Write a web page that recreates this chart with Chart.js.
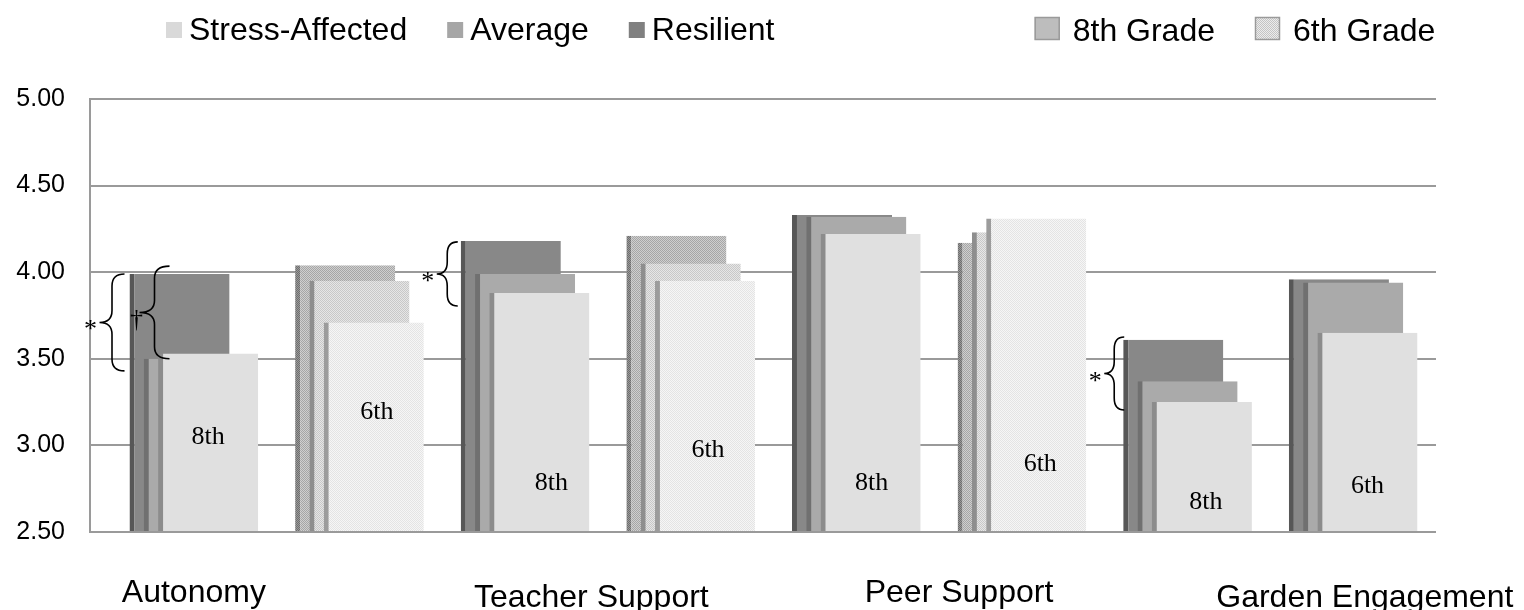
<!DOCTYPE html>
<html>
<head>
<meta charset="utf-8">
<script src="https://cdn.jsdelivr.net/npm/chart.js@4"></script>
<style>
  html, body { margin: 0; padding: 0; background: #fff; }
</style>
</head>
<body>
<canvas id="chart" width="1524" height="610"></canvas>
<script>
// Categories and groups (each category has an 8th and a 6th grade cluster)
const categories = ['Autonomy', 'Teacher Support', 'Peer Support', 'Garden Engagement'];
const groupIndex = [0, 1, 2, 3, 4, 5, 6, 7];
const groupGrade = ['8th', '6th', '8th', '6th', '8th', '6th', '8th', '6th'];

// Mean scores per group
const stressAffected = [3.53, 3.71, 3.88, 3.95, 4.22, 4.31, 3.25, 3.65];
const average        = [3.50, 3.95, 3.99, 4.05, 4.32, 4.23, 3.37, 3.94];
const resilient      = [3.99, 4.04, 4.18, 4.21, 4.33, 4.17, 3.61, 3.96];

const yTicks = [2.5, 3.0, 3.5, 4.0, 4.5, 5.0];
const gradeLegend = ['8th Grade', '6th Grade'];

// which clusters are drawn with the dotted fill
const patterned = [false, true, false, true, false, true, false, false];

// where the grade text sits inside the front bar (value units) and nudge in px
const gradeLabelY = [3.05, 3.19, 2.78, 2.97, 2.78, 2.89, 2.67, 2.765];
const gradeLabelDx = [0, 3, 12, 3, 1, 4, 4, 0];

// category labels under the plot, in x-scale units
const categoryLabelAt = [0, 2.4, 4.62, 7.07];
const categoryBaseline = [602, 607, 602, 607];

// significance braces: top/bottom in value units, x relative to back bar's left edge
const sigMarks = [
  { group: 0, top: 3.99, bottom: 3.43, tipDx: -30, endDx: -5, mark: '*' },
  { group: 0, top: 4.035, bottom: 3.50, tipDx: 10, endDx: 40, mark: '\u2020' },
  { group: 2, top: 4.175, bottom: 3.805, tipDx: -24, endDx: -3, mark: '*' },
  { group: 6, top: 3.626, bottom: 3.204, tipDx: -19, endDx: 1, mark: '*' }
];

function dotPattern(base, dot) {
  const c = document.createElement('canvas');
  c.width = 4; c.height = 4;
  const g = c.getContext('2d');
  g.fillStyle = base;
  g.fillRect(0, 0, 4, 4);
  g.fillStyle = dot;
  [[0, 0], [2, 0], [1, 1], [3, 1], [0, 2], [2, 2], [1, 3], [3, 3]].forEach(p => g.fillRect(p[0], p[1], 1, 1));
  return g.createPattern(c, 'repeat');
}

const styles = {
  resilient: { bg: '#888888', side: '#575757', pbg: dotPattern('#cfcfcf', '#a6a6a6'), pside: dotPattern('#9a9a9a', '#6e6e6e') },
  average:   { bg: '#aaaaaa', side: '#707070', pbg: dotPattern('#e6e6e6', '#c8c8c8'), pside: '#8e8e8e' },
  stress:    { bg: '#e0e0e0', side: '#8c8c8c', pbg: dotPattern('#f6f6f6', '#e4e4e4'), pside: '#9c9c9c' }
};

function makeDataset(label, values, st) {
  return {
    label: label,
    data: values.map((v, i) => ({ x: groupIndex[i], y: v })),
    base: yTicks[0],
    backgroundColor: groupIndex.map(i => patterned[i] ? st.pbg : st.bg),
    borderColor: groupIndex.map(i => patterned[i] ? st.pside : st.side),
    borderWidth: { left: 5, right: 0, top: 0, bottom: 0 },
    borderSkipped: false,
    barPercentage: 7.0,
    categoryPercentage: 0.259
  };
}

// back to front: Resilient, Average, Stress-Affected
const datasets = [
  makeDataset('Resilient', resilient, styles.resilient),
  makeDataset('Average', average, styles.average),
  makeDataset('Stress-Affected', stressAffected, styles.stress)
];
const legendColors = ['#808080', '#a6a6a6', '#d9d9d9'];

function brace(ctx, xTip, xEnd, yTop, yBot, yTip) {
  const xm = (xTip + xEnd) / 2;
  const r = Math.min(12, (yBot - yTop) / 4);
  ctx.beginPath();
  ctx.moveTo(xEnd, yTop);
  ctx.quadraticCurveTo(xm, yTop, xm, yTop + r);
  ctx.lineTo(xm, yTip - r);
  ctx.quadraticCurveTo(xm, yTip, xTip, yTip);
  ctx.quadraticCurveTo(xm, yTip, xm, yTip + r);
  ctx.lineTo(xm, yBot - r);
  ctx.quadraticCurveTo(xm, yBot, xEnd, yBot);
  ctx.stroke();
}

// draw front bars last so they cover the ones behind
const frontToBack = {
  id: 'frontToBack',
  beforeDatasetsDraw(chart) {
    const a = chart.chartArea;
    chart.ctx.save();
    chart.ctx.beginPath();
    chart.ctx.rect(a.left, a.top - 2, a.right - a.left, a.bottom - a.top + 2);
    chart.ctx.clip();
    chart.getSortedVisibleDatasetMetas().forEach(meta => meta.controller.draw());
    chart.ctx.restore();
    return false;
  }
};

const overlay = {
  id: 'overlay',
  afterDraw(chart) {
    const ctx = chart.ctx;
    const xs = chart.scales.x, ys = chart.scales.y;
    const back = chart.getDatasetMeta(0).data;
    const front = chart.getDatasetMeta(2).data;
    ctx.save();

    // series legend (front to back order)
    ctx.font = '32px "Liberation Sans", Arial, sans-serif';
    ctx.textBaseline = 'alphabetic';
    ctx.textAlign = 'left';
    let lx = 166;
    [2, 1, 0].forEach(i => {
      ctx.fillStyle = legendColors[i];
      ctx.fillRect(lx, 22, 16, 16);
      ctx.fillStyle = '#000';
      const t = chart.data.datasets[i].label;
      ctx.fillText(t, lx + 23, 40);
      lx += 23 + ctx.measureText(t).width + 40;
    });

    // grade legend, anchored so the second box sits at x=1255
    let gx = 1255 - 40 - ctx.measureText(gradeLegend[0]).width - 38;
    gradeLegend.forEach((t, i) => {
      ctx.fillStyle = i === 0 ? '#bdbdbd' : dotPattern('#ececec', '#c4c4c4');
      ctx.fillRect(gx, 17, 25, 23);
      ctx.strokeStyle = '#9a9a9a';
      ctx.lineWidth = 1.5;
      ctx.strokeRect(gx + 0.5, 17.5, 24, 22);
      ctx.fillStyle = '#000';
      ctx.fillText(t, gx + 38, 41);
      gx += 38 + ctx.measureText(t).width + 40;
    });

    // category labels
    ctx.textAlign = 'center';
    ctx.font = '32px "Liberation Sans", Arial, sans-serif';
    categories.forEach((c, i) => {
      ctx.fillText(c, xs.getPixelForValue(categoryLabelAt[i]), categoryBaseline[i]);
    });

    // grade text inside front bars
    ctx.font = '26px "Liberation Serif", "Times New Roman", serif';
    ctx.textBaseline = 'middle';
    groupIndex.forEach(g => {
      ctx.fillText(groupGrade[g], front[g].x + gradeLabelDx[g], ys.getPixelForValue(gradeLabelY[g]));
    });

    // significance braces
    ctx.strokeStyle = '#000';
    ctx.lineWidth = 1.6;
    ctx.textBaseline = 'alphabetic';
    sigMarks.forEach(m => {
      const left = back[m.group].x - back[m.group].width / 2;
      const yTop = ys.getPixelForValue(m.top);
      const yBot = ys.getPixelForValue(m.bottom);
      const yTip = (yTop + yBot) / 2;
      const xTip = left + m.tipDx;
      brace(ctx, xTip, left + m.endDx, yTop, yBot, yTip);
      ctx.fillText(m.mark, m.mark === '*' ? xTip - 9 : xTip - 3, yTip + 15);
    });
    ctx.restore();
  }
};

new Chart(document.getElementById('chart'), {
  type: 'bar',
  data: { datasets: datasets },
  options: {
    responsive: false,
    animation: false,
    layout: { padding: { top: 99, bottom: 78, left: 0, right: 88 } },
    plugins: { legend: { display: false }, tooltip: { enabled: false } },
    scales: {
      x: {
        type: 'linear',
        display: false,
        offset: false,
        min: -0.627,
        max: 7.5,
        afterBuildTicks: s => { s.ticks = groupIndex.map(v => ({ value: v })); }
      },
      y: {
        min: yTicks[0],
        max: yTicks[yTicks.length - 1],
        afterBuildTicks: s => { s.ticks = yTicks.map(v => ({ value: v })); },
        afterFit: s => { s.width = 90; },
        grid: { color: '#9a9a9a', lineWidth: 2, drawTicks: false },
        border: { color: '#9a9a9a', width: 2 },
        ticks: {
          padding: 25,
          color: '#000',
          font: { family: '"Liberation Sans", Arial, sans-serif', size: 25 },
          callback: v => Number(v).toFixed(2)
        }
      }
    }
  },
  plugins: [frontToBack, overlay]
});
</script>
</body>
</html>
